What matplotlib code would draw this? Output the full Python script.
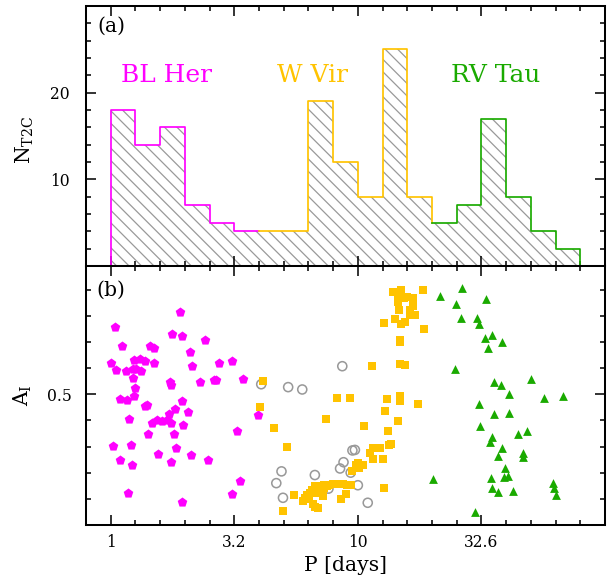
import numpy as np
import matplotlib
matplotlib.use('Agg')
import matplotlib.pyplot as plt
from matplotlib.ticker import MultipleLocator

# period histogram in 0.1 dex bins of log P
bin_edges = np.round(np.arange(20) * 0.1, 1)
counts = np.array([18, 14, 16, 7, 5, 4, 4, 4, 19, 12, 8, 25, 8, 5, 7, 17, 8, 4, 2])

class_names = ['BL Her', 'W Vir', 'RV Tau']
class_bins = [(0, 6), (6, 13), (13, 19)]
class_colors = ['#ff00ff', '#ffc300', '#1aaa00']

# log P and I-band amplitude of each star
blher_logp = [0.003, 0.020, 0.061, 0.044, 0.019, 0.094, 0.119, 0.140, 0.102, 0.092,
              0.124, 0.089, 0.097, 0.096, 0.038, 0.066, 0.074, 0.009, 0.039, 0.082,
              0.085, 0.071, 0.139, 0.146, 0.160, 0.174, 0.177, 0.168, 0.187, 0.209,
              0.228, 0.236, 0.244, 0.259, 0.287, 0.241, 0.243, 0.247, 0.288, 0.282,
              0.322, 0.327, 0.314, 0.294, 0.257, 0.264, 0.245, 0.325, 0.393, 0.193,
              0.152, 0.381, 0.362, 0.418, 0.424, 0.438, 0.489, 0.534, 0.509, 0.524,
              0.489, 0.290, 0.594]
blher_amp = [0.620, 0.592, 0.589, 0.686, 0.757, 0.632, 0.636, 0.626, 0.597, 0.595,
             0.588, 0.560, 0.524, 0.494, 0.480, 0.476, 0.406, 0.303, 0.249, 0.304,
             0.230, 0.122, 0.454, 0.459, 0.685, 0.677, 0.621, 0.389, 0.402, 0.396,
             0.402, 0.425, 0.391, 0.443, 0.473, 0.545, 0.534, 0.730, 0.721, 0.816,
             0.661, 0.608, 0.433, 0.384, 0.349, 0.293, 0.242, 0.266, 0.248, 0.271,
             0.347, 0.706, 0.548, 0.556, 0.556, 0.620, 0.626, 0.557, 0.360, 0.169,
             0.117, 0.087, 0.419]

pec_logp = [0.609, 0.718, 0.775, 0.937, 0.691, 0.670, 0.697, 0.826, 0.881, 0.928,
            0.942, 0.971, 0.978, 0.988, 1.000, 1.040]
pec_amp = [0.538, 0.527, 0.518, 0.607, 0.205, 0.160, 0.104, 0.191, 0.139, 0.216,
           0.240, 0.200, 0.285, 0.287, 0.152, 0.085]

wvir_logp = [0.616, 0.603, 0.660, 0.715, 0.741, 0.697, 0.777, 0.794, 0.804, 0.818,
             0.825, 0.838, 0.807, 0.825, 0.831, 0.838, 0.848, 0.858, 0.861, 0.874,
             0.885, 0.899, 0.912, 0.926, 0.939, 0.955, 0.973, 0.953, 0.930, 0.977,
             0.993, 1.004, 1.020, 1.000, 1.051, 1.063, 1.085, 1.063, 1.101, 1.105,
             1.125, 0.870, 0.915, 0.969, 1.026, 1.056, 1.105, 1.109, 1.117, 1.121,
             1.133, 1.161, 1.169, 1.169, 1.242, 1.171, 1.190, 1.172, 1.172, 1.141,
             1.174, 1.263, 1.161, 1.161, 1.188, 1.198, 1.222, 1.222, 1.209, 1.168,
             1.152, 1.211, 1.233, 1.192, 1.176, 1.266, 1.090, 0.787, 0.815, 0.845,
             0.865]
wvir_amp = [0.552, 0.452, 0.370, 0.300, 0.113, 0.052, 0.092, 0.113, 0.098, 0.079,
            0.070, 0.066, 0.123, 0.149, 0.123, 0.139, 0.149, 0.111, 0.142, 0.149,
            0.153, 0.155, 0.158, 0.158, 0.156, 0.154, 0.151, 0.117, 0.098, 0.205,
            0.228, 0.219, 0.229, 0.238, 0.274, 0.294, 0.294, 0.253, 0.253, 0.140,
            0.305, 0.407, 0.484, 0.484, 0.378, 0.607, 0.774, 0.434, 0.480, 0.361,
            0.310, 0.396, 0.495, 0.474, 0.462, 0.615, 0.610, 0.706, 0.698, 0.889,
            0.900, 0.900, 0.868, 0.852, 0.868, 0.871, 0.868, 0.836, 0.823, 0.821,
            0.789, 0.804, 0.803, 0.775, 0.770, 0.751, 0.294, 0.105, 0.135, 0.128,
            0.152]

rvtau_logp = [1.519, 1.481, 1.489, 1.516, 1.544, 1.528, 1.582, 1.551, 1.580, 1.610,
              1.699, 1.752, 1.831, 1.490, 1.549, 1.612, 1.493, 1.648, 1.683, 1.541,
              1.535, 1.582, 1.568, 1.669, 1.668, 1.594, 1.540, 1.591, 1.608, 1.543,
              1.568, 1.626, 1.790, 1.795, 1.800, 1.475, 1.331, 1.421, 1.396, 1.416,
              1.395, 1.306]
rvtau_amp = [0.864, 0.791, 0.768, 0.715, 0.728, 0.678, 0.701, 0.547, 0.535, 0.500,
             0.557, 0.485, 0.494, 0.463, 0.424, 0.430, 0.379, 0.348, 0.360, 0.336,
             0.318, 0.294, 0.265, 0.275, 0.261, 0.218, 0.178, 0.182, 0.188, 0.140,
             0.126, 0.130, 0.161, 0.141, 0.116, 0.050, 0.877, 0.906, 0.845, 0.791,
             0.595, 0.174]

period_ticks = [0.0, 0.5, 1.0, 1.5]
period_labels = ['1', '3.2', '10', '32.6']

plt.rcParams['font.family'] = 'DejaVu Serif'
plt.rcParams['mathtext.fontset'] = 'dejavuserif'
plt.rcParams['hatch.linewidth'] = 0.8

dpi = 112
fig = plt.figure(figsize=(607 / dpi, 576 / dpi), dpi=dpi)
ax1 = fig.add_axes([86 / 607, 1 - 266 / 576, 519 / 607, 260 / 576])
ax2 = fig.add_axes([86 / 607, 1 - 525 / 576, 519 / 607, 259 / 576], sharex=ax1)

# hatched histogram of all stars
ax1.stairs(counts, bin_edges, fill=True, hatch='\\\\\\', facecolor='white',
           edgecolor='#999999', linewidth=0)

# outline coloured by class
for (lo, hi), color in zip(class_bins, class_colors):
    xs = np.repeat(bin_edges[lo:hi + 1], 2)
    start = 0 if lo == 0 else counts[lo]
    end = 0 if hi == len(counts) else counts[hi]
    ys = np.concatenate([[start], np.repeat(counts[lo:hi], 2), [end]])
    ax1.plot(xs, ys, color=color, lw=1.1, clip_on=False)

label_x = [0.225, 0.815, 1.559]
for name, x, color in zip(class_names, label_x, class_colors):
    ax1.text(x, 21.2, name, color=color, fontsize=16, ha='center', va='baseline')

ax1.text(0.048, 0.921, '(a)', transform=ax1.transAxes, fontsize=13,
         ha='center', va='center')
ax1.set_ylim(0, 30)
ax1.set_yticks([10, 20])
ax1.yaxis.set_minor_locator(MultipleLocator(2))
ax1.set_ylabel(r'N$_{\rm T2C}$', fontsize=13)
ax1.yaxis.set_label_coords(-0.096, 0.485)

# amplitude vs period
ax2.scatter(blher_logp, blher_amp, marker='p', s=42, color=class_colors[0], linewidths=0)
ax2.scatter(pec_logp, pec_amp, marker='o', s=34, facecolors='none',
            edgecolors='#999999', linewidths=1.0)
ax2.scatter(wvir_logp, wvir_amp, marker='s', s=26, color=class_colors[1], linewidths=0)
ax2.scatter(rvtau_logp, rvtau_amp, marker='^', s=32, color=class_colors[2], linewidths=0)

ax2.text(0.048, 0.907, '(b)', transform=ax2.transAxes, fontsize=13,
         ha='center', va='center')
ax2.set_ylim(0, 0.99)
ax2.set_yticks([0.5], ['0.5'])
ax2.yaxis.set_minor_locator(MultipleLocator(0.1))
ax2.set_ylabel(r'A$_{\rm I}$', fontsize=13)
ax2.yaxis.set_label_coords(-0.1, 0.5)

ax2.set_xlim(-0.1, 2.0)
ax2.set_xticks(period_ticks, period_labels)
ax2.xaxis.set_minor_locator(MultipleLocator(0.1))
ax2.set_xlabel('P [days]', fontsize=13, labelpad=3)

for ax in (ax1, ax2):
    for spine in ax.spines.values():
        spine.set_linewidth(1.3)
    ax.tick_params(which='both', direction='in', top=True, right=True,
                   width=1.0, labelsize=10, pad=6)
    ax.tick_params(which='major', length=6.5)
    ax.tick_params(which='minor', length=3.2)
    # y tick labels are centred in the left margin
    ax.tick_params(axis='y', pad=17)
    for lbl in ax.get_yticklabels():
        lbl.set_horizontalalignment('center')
ax1.tick_params(labelbottom=False)

fig.savefig('out.png', dpi=dpi)
